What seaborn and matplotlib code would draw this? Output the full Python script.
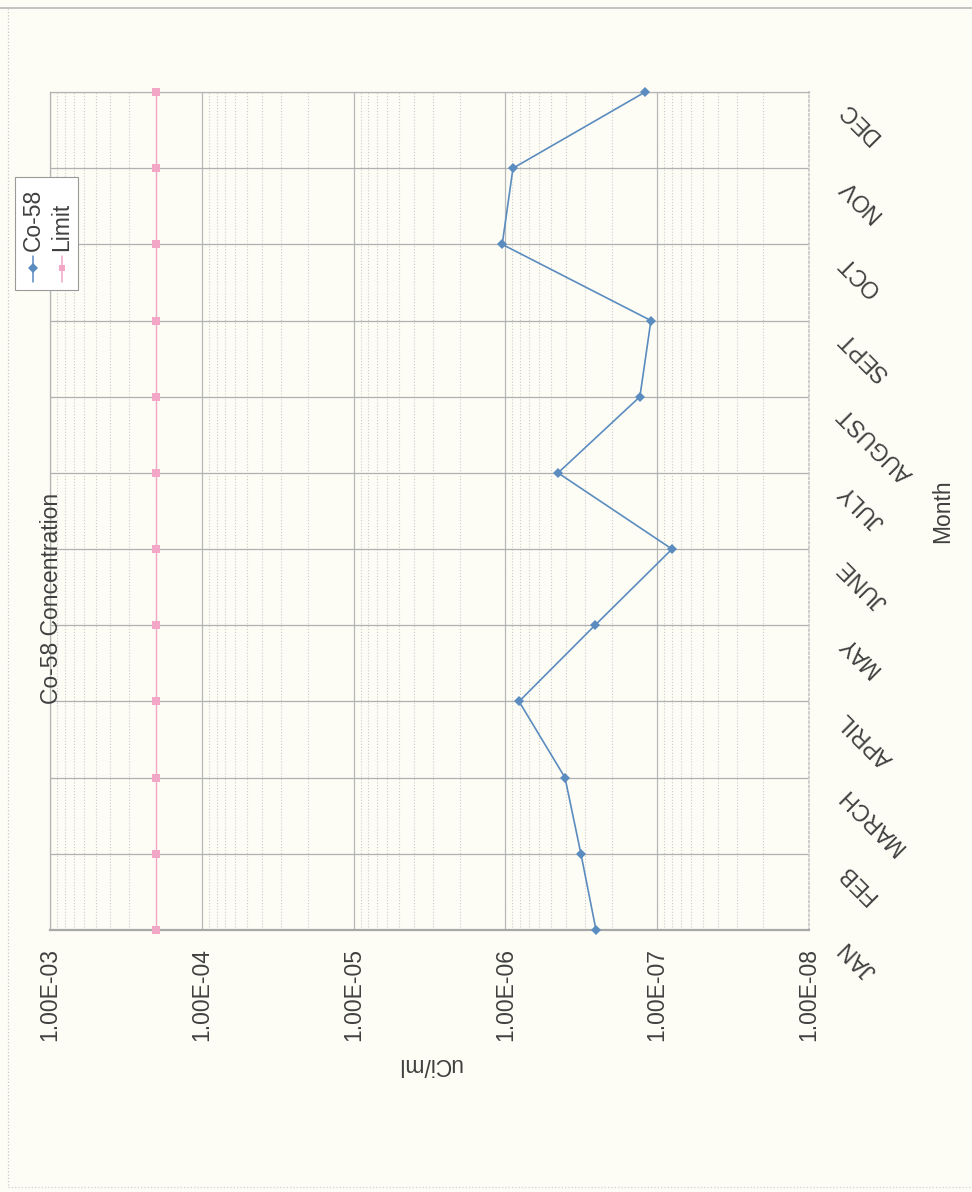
import numpy as np
import pandas as pd
import matplotlib
matplotlib.use("Agg")
import matplotlib.pyplot as plt
import matplotlib.ticker as mticker
from matplotlib.transforms import ScaledTranslation
from matplotlib.lines import Line2D
from matplotlib.patches import Rectangle
import seaborn as sns

# data (values in uCi/ml)
months = ["JAN", "FEB", "MARCH", "APRIL", "MAY", "JUNE", "JULY",
          "AUGUST", "SEPT", "OCT", "NOV", "DEC"]
co58 = [2.53e-7, 3.18e-7, 4.05e-7, 8.13e-7, 2.57e-7, 7.99e-8, 4.50e-7,
        1.30e-7, 1.10e-7, 1.05e-6, 8.91e-7, 1.20e-7]
limit = [2.0e-4] * 12
decades = [1e-3, 1e-4, 1e-5, 1e-6, 1e-7, 1e-8]

df = pd.DataFrame({
    "month_idx": list(range(len(months))) * 2,
    "value": co58 + limit,
    "series": ["Co-58"] * 12 + ["Limit"] * 12,
})

sns.set_theme(style="white")
plt.rcParams["font.family"] = ["Liberation Sans", "DejaVu Sans"]
txt = "#404040"
bg = "#fdfdf6"
blue = "#5b8cbf"
pink = "#f2a7c6"

fig = plt.figure(figsize=(9.72, 11.92), dpi=100, facecolor=bg)
ax = fig.add_axes([50 / 972, 262 / 1192, 759 / 972, 838 / 1192])
ax.set_facecolor(bg)

sns.lineplot(data=df[df.series == "Co-58"], x="value", y="month_idx",
             sort=False, estimator=None, color=blue, lw=1.2,
             marker="D", markersize=5, markeredgewidth=0, ax=ax,
             clip_on=False, zorder=4)
sns.lineplot(data=df[df.series == "Limit"], x="value", y="month_idx",
             sort=False, estimator=None, color=pink, lw=1.0,
             marker="s", markersize=6, markeredgewidth=0, ax=ax,
             clip_on=False, zorder=3)

ax.set_xscale("log")
ax.set_xlim(decades[0], decades[-1])
ax.set_ylim(0, len(months) - 1)

ax.set_xticks(decades)
ax.xaxis.set_major_formatter(mticker.FuncFormatter(lambda v, p: f"{v:.2E}"))
ax.xaxis.set_minor_locator(mticker.LogLocator(base=10, subs=np.arange(2, 10)))
ax.xaxis.set_minor_formatter(mticker.NullFormatter())
ax.tick_params(axis="x", which="major", length=4, width=0.8, color="#b4b4b4",
               pad=9, labelsize=16.5, labelcolor=txt, labelrotation=90)
ax.tick_params(axis="x", which="minor", length=0)

ax.yaxis.tick_right()
ax.set_yticks(range(len(months)))
ax.set_yticklabels(months, rotation=135, rotation_mode="anchor",
                   ha="right", va="center", fontsize=16.5, color=txt)
ax.tick_params(axis="y", length=0, pad=24)
for lbl in ax.get_yticklabels():
    lbl.set_transform(lbl.get_transform()
                      + ScaledTranslation(0, -0.14, fig.dpi_scale_trans))

ax.grid(True, which="major", axis="x", color="#b8b8b8", lw=0.9)
ax.grid(True, which="minor", axis="x", color="#cdcdcd", lw=0.8, ls=":")
ax.grid(True, which="major", axis="y", color="#b0b0b0", lw=0.9)

for side in ["left", "top"]:
    ax.spines[side].set_color("#b4b4b4")
    ax.spines[side].set_linewidth(0.9)
ax.spines["bottom"].set_color("#a8a8a8")
ax.spines["bottom"].set_linewidth(1.6)
ax.spines["right"].set_color("#c8c8c8")
ax.spines["right"].set_linestyle(":")

ax.set_xlabel("uCi/ml", rotation=180, fontsize=16.5, color=txt, va="center")
ax.xaxis.set_label_coords(0.5, -135 / 838)
ax.yaxis.set_label_position("right")
ax.set_ylabel("Month", rotation=90, fontsize=16.5, color=txt, va="center")
ax.yaxis.set_label_coords(893 / 759, 0.5)

# title, rotated like the rest of the scanned page
fig.text(52 / 972, 1 - 598 / 1192, "Co-58 Concentration", rotation=90,
         ha="center", va="center", fontsize=16.5, color=txt)

# legend drawn by hand because its entries are rotated
def fx(px):
    return px / 972

def fy(py):
    return 1 - py / 1192

fig.patches.append(Rectangle((fx(15), fy(290)), fx(63), 113 / 1192,
                             transform=fig.transFigure, facecolor="white",
                             edgecolor="#9a9a9a", lw=0.8, zorder=5))
for xc, name, col, mk in [(33, "Co-58", blue, "D"), (62, "Limit", pink, "s")]:
    fig.lines.append(Line2D([fx(xc), fx(xc)], [fy(282), fy(256)],
                            transform=fig.transFigure, color=col, lw=1.1,
                            zorder=6))
    fig.lines.append(Line2D([fx(xc)], [fy(268)], transform=fig.transFigure,
                            color=col, marker=mk, markersize=5,
                            markeredgewidth=0, zorder=6))
    fig.text(fx(xc), fy(251), name, rotation=90, rotation_mode="anchor",
             ha="left", va="center", fontsize=16.5, color=txt, zorder=7)

# page edges from the scan
fig.lines.append(Line2D([0, 1], [fy(8), fy(8)], transform=fig.transFigure,
                        color="#b8b8b8", lw=1.2))
fig.lines.append(Line2D([fx(8), fx(8)], [fy(8), fy(1187)],
                        transform=fig.transFigure, color="#c8c8c8",
                        lw=0.9, ls=":"))
fig.lines.append(Line2D([fx(8), 1], [fy(1187), fy(1187)],
                        transform=fig.transFigure, color="#d0d0d0",
                        lw=0.9, ls=":"))

fig.savefig("out.png", dpi=100, facecolor=bg)
